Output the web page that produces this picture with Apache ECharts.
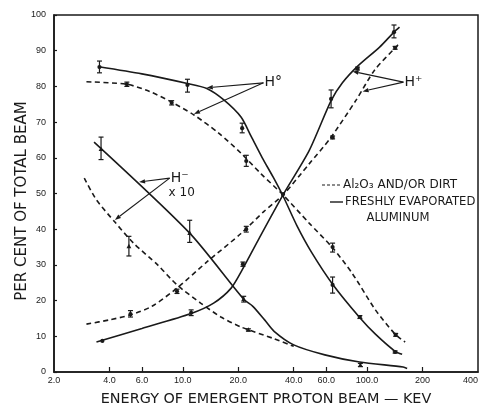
<!DOCTYPE html>
<html>
<head>
<meta charset="utf-8">
<script src="https://cdn.jsdelivr.net/npm/echarts@6/dist/echarts.min.js"></script>
<style>
  html, body { margin: 0; padding: 0; background: #fff; }
  #chart { width: 481px; height: 409px; }
</style>
</head>
<body>
<div id="chart"></div>
<script>
// Energy tick marks (keV) and their printed labels
const xTickValues = [2, 4, 6, 10, 20, 40, 60, 100, 200, 400];
const xTickLabels = ['2.0', '4.0', '6.0', '10.0', '20.0', '40.0', '60.0', '100.0', '200', '400'];

// Smooth fitted curves: [energy keV, per cent of beam]
// H0 (neutral) fraction
const h0Clean = [[3.5,85.5],[6,83.5],[10.6,80.8],[13.5,79.4],[16.7,76.2],[20.7,71.4],[23.5,66],[27,60],[31,54.5],[35,49.3],[41.6,41],[50,33.5],[65,24.6],[91.4,15.2],[111,10.6],[142,5.8],[155,5]];
const h0Dirt = [[3.0,81.3],[4.97,80.6],[6.6,78.6],[8.7,75.6],[11.5,72],[15.6,67],[20.7,61.3],[26.6,55.5],[35,49.6],[48.5,41.7],[65,34.8],[83.4,27.5],[111,17.4],[142,10.6],[161,8.4]];
// H+ (proton) fraction
const hpClean = [[3.4,8.4],[6,12.2],[11.1,16.4],[14.7,19.3],[18.3,23.5],[21,28.6],[26,37.5],[35,49.6],[48.5,62],[63.8,76],[73.5,81],[88.7,85.6],[117,91],[140,95.2],[150,96.6]];
const hpDirt = [[3.0,13.4],[4,14.6],[5.2,16.0],[6.8,18.4],[9.3,23.5],[13.7,31.1],[20.7,38.8],[27.6,45],[35,49.6],[48.5,58.3],[63.2,65.5],[86.8,76],[110,84.6],[142,90.8],[152,92.4]];
// H- (negative ion) fraction, multiplied by 10
const hmClean = [[3.3,64.4],[10.9,38.9],[21.4,20.4],[24,18.4],[27.8,14.6],[31.3,11.4],[40,7.6],[59,4.8],[91,2.8],[157,1.4],[165,1]];
const hmDirt = [[2.92,54.3],[3.4,48.2],[4.28,42],[5.4,36.1],[7.3,30],[9.3,24.4],[12.5,19.3],[16.1,15.4],[20.7,12.6],[31,9.4],[40,7.2]];

// Measured points: [energy, value, error low, error high]
const h0CleanPts = [[3.53,85.4,83.8,87.1],[10.6,80.4,78.4,82],[21,68.3,67,69.7],[35,49.8,49.8,49.8],[65,24.4,22.1,26.6],[91.4,15.4,15,15.8],[142,5.6,5.3,5.9]];
const h0DirtPts = [[4.97,80.6,80,81.2],[8.7,75.4,74.8,76],[22.1,59.1,57.6,60.7],[65,35,33.6,36.1],[143,10.4,10,10.8]];
const hpCleanPts = [[3.66,8.7,8.7,8.7],[11.1,16.6,15.8,17.4],[21.2,30.2,29.6,30.8],[63.8,76.5,74,79],[88.7,85,84.6,85.4],[140,95.2,93.6,97.2]];
const hpDirtPts = [[5.2,16.2,15.4,17.2],[9.3,22.6,22,23.2],[22.1,40,39.2,40.8],[65,65.7,65.3,66.1],[142,90.8,90.4,91.2]];
const hmCleanPts = [[3.6,62.4,59.5,65.8],[10.9,38.9,36.3,42.5],[21.4,20.4,19.6,21.2],[92,1.9,1.5,2.4]];
const hmDirtPts = [[5.1,35.2,32.5,38],[22.7,11.8,11.5,12.1]];

// Label pointers: label anchor, then the curve points the arrows touch
const h0Pointer = { label: 'H°', from: [27.4, 81], to: [[13.5, 79.6], [11.5, 72.3]] };
const hpPointer = { label: 'H⁺', from: [157.6, 81.2], to: [[83.4, 84.2], [94.6, 78.6]] };
const hmPointer = { label: 'H⁻', from: [8.49, 54.3], to: [[5.79, 53.2], [4.28, 42.6]] };

const INK = '#1a1a1a';
const FONT = 'DejaVu Sans';
const TICK_FONT = 'Liberation Sans';

function curve(data, dashed) {
  return {
    type: 'line', data: data, smooth: 0.25, symbol: 'none', silent: true,
    lineStyle: { color: INK, width: 1.6, type: dashed ? [5, 3.5] : 'solid' },
    z: 2
  };
}

function points(data, shape) {
  return {
    type: 'custom', data: data, silent: true, z: 3,
    encode: { x: 0, y: 1 },
    renderItem: function (params, api) {
      const x = api.value(0), y = api.value(1), lo = api.value(2), hi = api.value(3);
      const p = api.coord([x, y]);
      const pl = api.coord([x, lo]);
      const ph = api.coord([x, hi]);
      const kids = [];
      const st = { stroke: INK, lineWidth: 1.2 };
      if (pl[1] - ph[1] > 2) {
        kids.push({ type: 'line', shape: { x1: p[0], y1: pl[1], x2: p[0], y2: ph[1] }, style: st });
        kids.push({ type: 'line', shape: { x1: p[0] - 2.5, y1: pl[1], x2: p[0] + 2.5, y2: pl[1] }, style: st });
        kids.push({ type: 'line', shape: { x1: p[0] - 2.5, y1: ph[1], x2: p[0] + 2.5, y2: ph[1] }, style: st });
      }
      if (shape === 'triangle') {
        kids.push({ type: 'polygon', shape: { points: [[p[0], p[1] - 2.6], [p[0] - 2.4, p[1] + 1.8], [p[0] + 2.4, p[1] + 1.8]] }, style: { fill: INK } });
      } else {
        kids.push({ type: 'circle', shape: { cx: p[0], cy: p[1], r: 2.1 }, style: { fill: INK } });
      }
      return { type: 'group', children: kids };
    }
  };
}

const chart = echarts.init(document.getElementById('chart'), null, { renderer: 'canvas' });

chart.setOption({
  animation: false,
  backgroundColor: '#fff',
  textStyle: { fontFamily: FONT, color: INK },
  grid: { left: 54, right: 3, top: 15, bottom: 37, containLabel: false, outerBoundsMode: 'none',
          show: true, borderColor: INK, borderWidth: 1.5, backgroundColor: 'transparent' },
  xAxis: {
    type: 'log', logBase: 10, min: 2, max: 400,
    name: 'ENERGY OF EMERGENT PROTON BEAM — KEV',
    nameLocation: 'middle', nameGap: 20,
    nameTextStyle: { fontFamily: FONT, fontSize: 14.4, color: INK },
    axisLine: { show: true, lineStyle: { color: INK, width: 1.6 } },
    axisTick: { show: true, inside: true, length: 5, lineStyle: { color: INK, width: 1.2 }, customValues: xTickValues.slice(1, -1) },
    minorTick: { show: false },
    splitLine: { show: false },
    axisLabel: {
      show: true, margin: 4, fontSize: 9, color: INK, fontFamily: TICK_FONT,
      customValues: xTickValues,
      alignMaxLabel: 'right',
      formatter: function (v) {
        let best = 0, bd = Infinity;
        xTickValues.forEach(function (t, i) {
          const d = Math.abs(Math.log(t) - Math.log(v));
          if (d < bd) { bd = d; best = i; }
        });
        return xTickLabels[best];
      }
    }
  },
  yAxis: {
    type: 'value', min: 0, max: 100, interval: 10,
    axisLine: { show: true, lineStyle: { color: INK, width: 1.6 } },
    axisTick: { show: true, inside: true, length: 3, lineStyle: { color: INK, width: 1.2 } },
    splitLine: { show: false },
    axisLabel: { margin: 8, fontSize: 9, color: INK, fontFamily: TICK_FONT }
  },
  series: [
    curve(h0Clean, false), curve(h0Dirt, true),
    curve(hpClean, false), curve(hpDirt, true),
    curve(hmClean, false), curve(hmDirt, true),
    points(h0CleanPts, 'dot'), points(h0DirtPts, 'dot'),
    points(hpCleanPts, 'dot'), points(hpDirtPts, 'dot'),
    points(hmCleanPts, 'triangle'), points(hmDirtPts, 'triangle')
  ]
});

// Pointer lines with arrowheads, and the legend text
function toPx(v) { return chart.convertToPixel({ xAxisIndex: 0, yAxisIndex: 0 }, v); }

function arrow(from, to) {
  const a = toPx(from), b = toPx(to);
  const dx = b[0] - a[0], dy = b[1] - a[1];
  const len = Math.sqrt(dx * dx + dy * dy);
  const ux = dx / len, uy = dy / len;
  const hl = 6, hw = 2.2;
  const bx = b[0] - ux * hl, by = b[1] - uy * hl;
  return [
    { type: 'line', shape: { x1: a[0], y1: a[1], x2: bx, y2: by }, style: { stroke: INK, lineWidth: 1.1 }, z: 10 },
    { type: 'polygon', shape: { points: [[b[0], b[1]], [bx - uy * hw, by + ux * hw], [bx + uy * hw, by - ux * hw]] }, style: { fill: INK }, z: 10 }
  ];
}

const graphics = [];
[h0Pointer, hpPointer, hmPointer].forEach(function (ptr) {
  ptr.to.forEach(function (t) { arrow(ptr.from, t).forEach(function (g) { graphics.push(g); }); });
  const a = toPx(ptr.from);
  graphics.push({ type: 'text', x: a[0] + 1, y: a[1], z: 10,
    style: { text: ptr.label, font: '14px "' + FONT + '"', fill: INK, textAlign: 'left', textVerticalAlign: 'middle' } });
});
const hmAnchor = toPx(hmPointer.from);
graphics.push({ type: 'text', x: hmAnchor[0] + 12, y: hmAnchor[1] + 15, z: 10,
  style: { text: 'x 10', font: '12px "' + FONT + '"', fill: INK, textAlign: 'center', textVerticalAlign: 'middle' } });

// Vertical axis title
graphics.push({ type: 'text', x: 22, y: 201, rotation: Math.PI / 2, z: 10,
  style: { text: 'PER CENT OF TOTAL BEAM', font: '15px "' + FONT + '"', fill: INK, textAlign: 'center', textVerticalAlign: 'middle' } });

// Legend
graphics.push({ type: 'line', shape: { x1: 322, y1: 185, x2: 341, y2: 185 }, style: { stroke: INK, lineWidth: 1.2, lineDash: [3, 2] }, z: 10 });
graphics.push({ type: 'text', x: 343, y: 185, z: 10,
  style: { text: 'Al₂O₃ AND/OR DIRT', font: '12px "' + FONT + '"', fill: INK, textAlign: 'left', textVerticalAlign: 'middle' } });
graphics.push({ type: 'line', shape: { x1: 330, y1: 202, x2: 343, y2: 202 }, style: { stroke: INK, lineWidth: 1.4 }, z: 10 });
graphics.push({ type: 'text', x: 345, y: 202, z: 10,
  style: { text: 'FRESHLY EVAPORATED', font: '11.6px "' + FONT + '"', fill: INK, textAlign: 'left', textVerticalAlign: 'middle' } });
graphics.push({ type: 'text', x: 398, y: 218, z: 10,
  style: { text: 'ALUMINUM', font: '11.6px "' + FONT + '"', fill: INK, textAlign: 'center', textVerticalAlign: 'middle' } });

chart.setOption({ graphic: graphics });
</script>
</body>
</html>
